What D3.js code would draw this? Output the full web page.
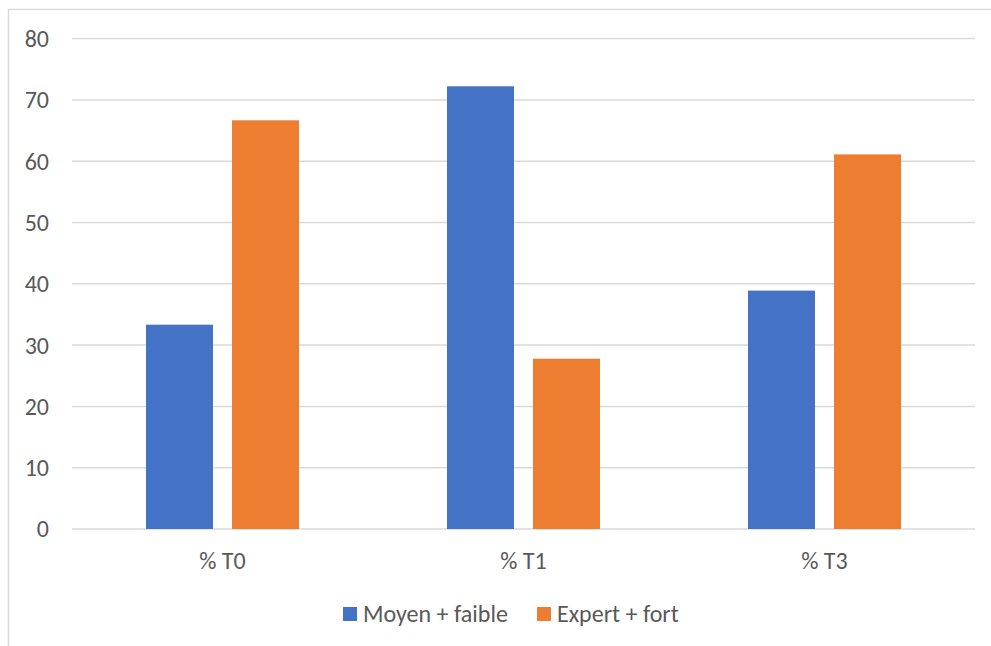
<!DOCTYPE html>
<html>
<head>
<meta charset="utf-8">
<script src="https://cdn.jsdelivr.net/npm/d3@7"></script>
<style>
  body { margin: 0; background: #fff; }
  svg { display: block; font-family: Carlito, Calibri, "Noto Sans", sans-serif; }
</style>
</head>
<body>
<div id="draw_svg"></div>
<script>
// 数据
const categories = ['% T0', '% T1', '% T3'];
const seriesNames = ['Moyen + faible', 'Expert + fort'];
const moyenFaible = [33.33, 72.22, 38.89];
const expertFort = [66.67, 27.78, 61.11];
const yTicks = [0, 10, 20, 30, 40, 50, 60, 70, 80];
const colors = ['#4472c4', '#ed7d31'];

const W = 991, H = 646;
const plot = { left: 72, right: 975, top: 38.6, bottom: 529 };
const fs = 24;

const svg = d3.select('#draw_svg')
    .append('svg')
    .attr('width', W)
    .attr('height', H);

// 外框
svg.append('rect')
    .attr('x', 8.5).attr('y', 9.5)
    .attr('width', 1000).attr('height', 700)
    .attr('fill', 'none')
    .attr('stroke', '#d9d9d9')
    .attr('stroke-width', 1.5);

const x = d3.scaleBand()
    .domain(categories)
    .range([plot.left, plot.right])
    .paddingInner(0)
    .paddingOuter(0);

const x1 = d3.scaleBand()
    .domain(seriesNames)
    .range([0, x.bandwidth()])
    .paddingInner(19 / 86)
    .paddingOuter(74 / 86);

const y = d3.scaleLinear()
    .domain([0, 80])
    .range([plot.bottom, plot.top]);

// 网格线
svg.append('g')
    .selectAll('line')
    .data(yTicks)
    .enter()
    .append('line')
    .attr('x1', plot.left)
    .attr('x2', plot.right)
    .attr('y1', d => y(d))
    .attr('y2', d => y(d))
    .attr('stroke', '#d9d9d9')
    .attr('stroke-width', 1.5);

// y 轴标签
svg.append('g')
    .selectAll('text')
    .data(yTicks)
    .enter()
    .append('text')
    .attr('x', 49)
    .attr('y', d => y(d))
    .attr('dy', '0.35em')
    .attr('text-anchor', 'end')
    .attr('font-size', fs)
    .attr('fill', '#595959')
    .text(d => d);

// 柱子
const rows = categories.map((c, i) => ({ cat: c, vals: [moyenFaible[i], expertFort[i]] }));

const groups = svg.append('g')
    .selectAll('g')
    .data(rows)
    .enter()
    .append('g')
    .attr('transform', d => `translate(${x(d.cat)},0)`);

groups.selectAll('rect')
    .data(d => d.vals.map((v, j) => ({ name: seriesNames[j], v, j })))
    .enter()
    .append('rect')
    .attr('x', d => x1(d.name))
    .attr('width', x1.bandwidth())
    .attr('y', d => y(d.v))
    .attr('height', d => y(0) - y(d.v))
    .attr('fill', d => colors[d.j]);

// x 轴标签
svg.append('g')
    .selectAll('text')
    .data(categories)
    .enter()
    .append('text')
    .attr('x', d => x(d) + x.bandwidth() / 2)
    .attr('y', 561)
    .attr('dy', '0.35em')
    .attr('text-anchor', 'middle')
    .attr('font-size', fs)
    .attr('fill', '#595959')
    .text(d => d);

// 图例
const legendX = [343, 537];
const legend = svg.append('g')
    .selectAll('g')
    .data(seriesNames)
    .enter()
    .append('g')
    .attr('transform', (d, i) => `translate(${legendX[i]},614)`);

legend.append('rect')
    .attr('x', 0).attr('y', -7)
    .attr('width', 14).attr('height', 14)
    .attr('fill', (d, i) => colors[i]);

legend.append('text')
    .attr('x', 20)
    .attr('y', 0)
    .attr('dy', '0.35em')
    .attr('font-size', fs)
    .attr('fill', '#595959')
    .text(d => d);
</script>
</body>
</html>
